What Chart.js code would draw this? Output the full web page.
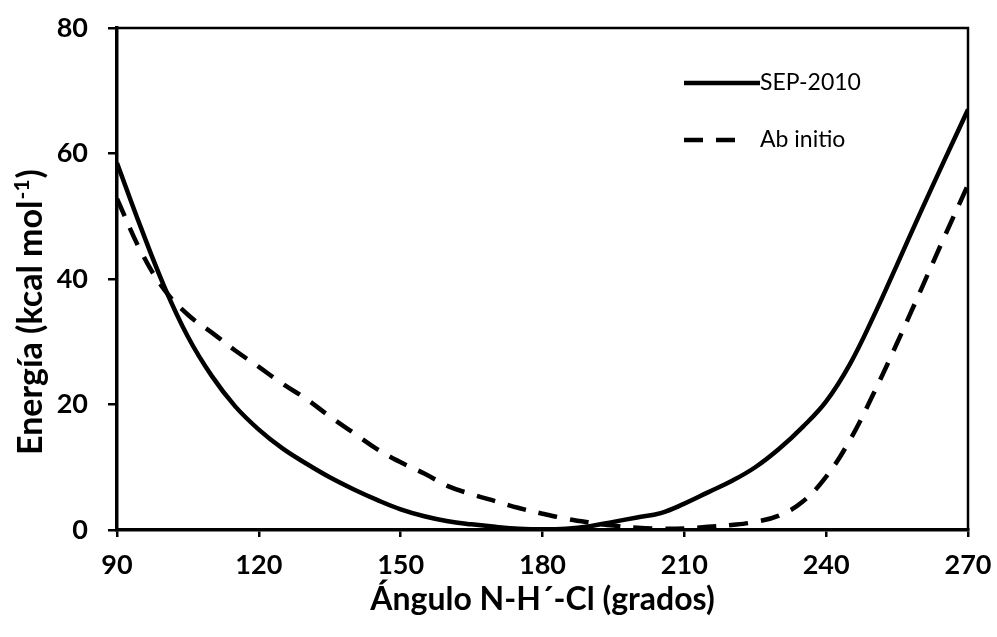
<!DOCTYPE html>
<html><head><meta charset="utf-8">
<script src="https://cdn.jsdelivr.net/npm/chart.js@4/dist/chart.umd.min.js"></script>
<style>html,body{margin:0;padding:0;background:#fff}#wrap{width:997px;height:637px}</style>
</head><body><div id="wrap"><canvas id="c" width="997" height="637"></canvas></div>
<script>
const angles   = [90,95,100,105,110,115,120,125,130,135,140,145,150,155,160,165,170,175,180,185,190,195,200,205,210,215,220,225,230,235,240,245,250,255,260,265,270];
const sep2010  = [58.5,48.3,38.8,30.8,24.6,19.7,16.0,13.0,10.6,8.4,6.5,4.8,3.3,2.2,1.4,0.9,0.5,0.2,0.1,0.2,0.6,1.3,2.0,2.7,4.2,6.0,7.8,10.0,12.9,16.4,20.5,26.4,34.0,42.3,50.7,58.9,67.0];
const abInitio = [52.8,44.5,38.3,34.3,31.5,28.6,26.0,23.3,20.9,18.1,15.5,12.9,10.8,9.0,7.0,5.7,4.6,3.5,2.6,1.8,1.2,0.7,0.35,0.2,0.25,0.5,0.8,1.3,2.3,4.5,8.5,14.3,21.7,29.8,38.2,46.7,55.0];
const xTicks = [90,120,150,180,210,240,270];
const yTicks = [0,20,40,60,80];
const seriesNames = ['SEP-2010','Ab initio'];
const yTitle = ['Energía (kcal mol', '-1', ')'];

const F = "Lato, 'Open Sans', 'Liberation Sans', sans-serif";

const frame = {
  id:'frame',
  afterDatasetsDraw(chart){
    const {ctx, chartArea:a} = chart;
    ctx.save();
    ctx.strokeStyle='#000'; ctx.lineWidth=2.5;
    ctx.beginPath();
    ctx.moveTo(a.left, a.top); ctx.lineTo(a.right, a.top); ctx.lineTo(a.right, a.bottom);
    ctx.stroke();
    // legend
    const items = chart.data.datasets;
    const ys = [83, 140];
    ctx.font = "23px " + F;
    ctx.fillStyle='#000'; ctx.textBaseline='middle'; ctx.textAlign='left';
    items.forEach((ds,i)=>{
      ctx.beginPath();
      ctx.lineWidth = ds.borderWidth;
      ctx.setLineDash(ds.borderDash || []);
      const x0 = 684, x1 = i===0 ? 760 : 743;
      ctx.moveTo(x0, ys[i]); ctx.lineTo(x1, ys[i]); ctx.stroke();
      ctx.setLineDash([]);
      ctx.fillText(ds.label, 760, ys[i]);
    });
    // y title with superscript
    const big = "bold 34px " + F, small = "bold 21px " + F;
    ctx.font = big; const w0 = ctx.measureText(yTitle[0]).width;
    ctx.font = small; const w1 = ctx.measureText(yTitle[1]).width;
    ctx.translate(42, 455);
    ctx.rotate(-Math.PI/2);
    ctx.textBaseline='alphabetic'; ctx.textAlign='left';
    ctx.font = big; ctx.fillText(yTitle[0], 0, 0);
    ctx.font = small; ctx.fillText(yTitle[1], w0 + 1, -13);
    ctx.font = big; ctx.fillText(yTitle[2], w0 + w1 + 2, 0);
    ctx.restore();
  }
};

new Chart(document.getElementById('c'), {
  type:'line',
  data:{
    datasets:[
      {label:seriesNames[0], data:angles.map((a,i)=>({x:a,y:sep2010[i]})), borderColor:'#000', borderWidth:4.5, pointRadius:0, tension:0.4, fill:false},
      {label:seriesNames[1], data:angles.map((a,i)=>({x:a,y:abInitio[i]})), borderColor:'#000', borderWidth:4.5, borderDash:[19,13], pointRadius:0, tension:0.4, fill:false}
    ]
  },
  options:{
    responsive:false, animation:false,
    layout:{padding:{top:28,right:29,left:0,bottom:0}},
    plugins:{legend:{display:false}, tooltip:{enabled:false}},
    scales:{
      x:{type:'linear', min:90, max:270,
        afterBuildTicks:s=>{s.ticks=xTicks.map(v=>({value:v}));},
        afterFit:s=>{s.height=107; s.paddingLeft=0; s.paddingRight=0;},
        border:{display:true,color:'#000',width:3.5},
        grid:{drawOnChartArea:false, drawTicks:true, tickLength:7, color:'#000', lineWidth:2.5},
        ticks:{color:'#000', padding:12, maxRotation:0, font:{family:F, size:27, weight:'bold'}},
        title:{display:true, text:'Ángulo N-H´-Cl (grados)', color:'#000', font:{family:F,size:32,weight:'bold'}, padding:{top:4,bottom:18}}
      },
      y:{min:0, max:80,
        afterBuildTicks:s=>{s.ticks=yTicks.map(v=>({value:v}));},
        afterFit:s=>{s.width=117; s.paddingTop=0; s.paddingBottom=0;},
        border:{display:true,color:'#000',width:3.5},
        grid:{drawOnChartArea:false, drawTicks:true, tickLength:9, color:'#000', lineWidth:2.5},
        ticks:{color:'#000', padding:20, font:{family:F, size:27, weight:'bold'}},
        title:{display:false}
      }
    }
  },
  plugins:[frame]
});
</script></body></html>
